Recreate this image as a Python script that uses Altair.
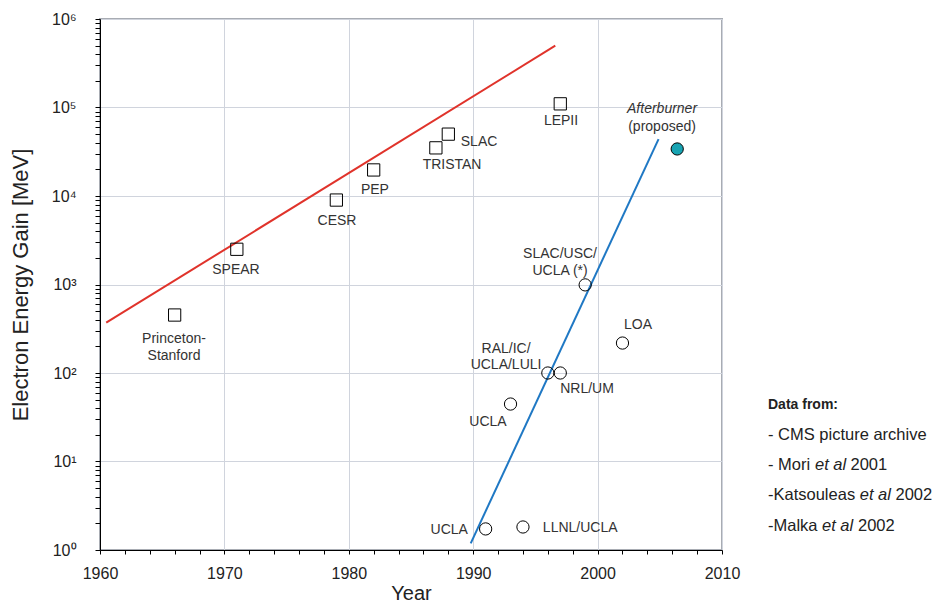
import altair as alt
import pandas as pd

FONT = "Liberation Sans"

# ---- data ----
sq_names = ["Princeton-Stanford", "SPEAR", "CESR", "PEP", "TRISTAN", "SLAC", "LEPII"]
sq_years = [1966, 1971, 1979, 1982, 1987, 1988, 1997]
sq_gain = [452, 2500, 9000, 19700, 35000, 50000, 110000]

circ_names = ["UCLA", "LLNL/UCLA", "UCLA", "RAL/IC/UCLA/LULI", "NRL/UM", "SLAC/USC/UCLA (*)", "LOA"]
circ_years = [1991, 1994, 1993, 1996, 1997, 1999, 2002]
circ_gain = [1.73, 1.82, 44.6, 100, 100, 990, 218]

ab_years = [2006.4]
ab_gain = [34000]

red_years = [1960.5, 1996.6]
red_gain = [370, 500000]
blue_years = [1989.8, 2004.9]
blue_gain = [1.19, 44000]

# label anchors (text centre) in data units
lab_text = ["Princeton-\nStanford", "SPEAR", "CESR", "PEP", "TRISTAN", "SLAC", "LEPII",
            "SLAC/USC/\nUCLA (*)", "LOA", "RAL/IC/\nUCLA/LULI", "NRL/UM", "UCLA",
            "UCLA", "LLNL/UCLA", "(proposed)"]
lab_year = [1965.95, 1970.93, 1979.05, 1982.1, 1988.3, 1989.0, 1997.06,
            1996.98, 2003.25, 1992.64, 1999.15, 1991.19, 1989.58, 1995.6, 2005.18]
lab_gain = [242, 1459, 5220, 11700, 22400, 40700, 70400,
            2183, 349, 187, 66, 27.9, 1.68, 1.77, 60200]
lab_align = ["center", "center", "center", "center", "center", "left", "center",
             "center", "center", "center", "center", "center", "right", "left", "center"]
ital_text = ["Afterburner"]
ital_year = [2005.18]
ital_gain = [96200]

x_ticks = list(range(1960, 2011, 2))
y_ticks = [k * 10 ** n for n in range(0, 6) for k in range(1, 10)] + [10 ** 6]

W, H = 622, 531

sq = pd.DataFrame({"name": sq_names, "year": sq_years, "gain": sq_gain})
ci = pd.DataFrame({"name": circ_names, "year": circ_years, "gain": circ_gain})
ab = pd.DataFrame({"year": ab_years, "gain": ab_gain})
lines = pd.DataFrame({
    "year": red_years + blue_years,
    "gain": red_gain + blue_gain,
    "series": ["red"] * 2 + ["blue"] * 2,
})
labs = pd.DataFrame({"text": lab_text, "year": lab_year, "gain": lab_gain, "align": lab_align})
itl = pd.DataFrame({"text": ital_text, "year": ital_year, "gain": ital_gain})

xscale = alt.Scale(domain=[1960, 2010], nice=False, zero=False)
yscale = alt.Scale(type="log", domain=[1, 1e6], nice=False)

x_axis = alt.Axis(
    values=x_ticks, title="Year", titleFontSize=20, titleFont=FONT, titleFontWeight="normal",
    titleColor="#222", titlePadding=2,
    labelFont=FONT, labelFontSize=16, labelColor="#222", labelPadding=11,
    labelExpr="datum.value % 10 == 0 ? '' + datum.value : ''",
    labelOverlap=False, labelFlush=False,
    tickSize=4, tickColor="black", domainColor="black", domainWidth=1,
    grid=True, gridColor="#d0d4dd", gridWidth=1,
    gridOpacity={"condition": {"test": "datum.value % 10 == 0", "value": 1}, "value": 0},
)
major_test = "abs(log(datum.value)/LN10 - round(log(datum.value)/LN10)) < 1e-6"
y_axis = alt.Axis(
    values=y_ticks, title="Electron Energy Gain [MeV]", titleFontSize=22, titleFont=FONT,
    titleFontWeight="normal", titleColor="#222", titlePadding=19,
    labelFont=FONT, labelFontSize=16, labelColor="#222", labelPadding=19,
    labelExpr=major_test + " ? '10' + ['⁰','¹','²','³','⁴','⁵','⁶'][round(log(datum.value)/LN10)] : ''",
    labelOverlap=False, labelFlush=False,
    tickSize=5, tickColor="black", domainColor="black", domainWidth=1,
    grid=True, gridColor="#d0d4dd", gridWidth=1,
    gridOpacity={"condition": {"test": major_test, "value": 1}, "value": 0},
)

X = alt.X("year:Q", scale=xscale, axis=x_axis)
Y = alt.Y("gain:Q", scale=yscale, axis=y_axis)

line_layer = alt.Chart(lines).mark_line(strokeWidth=2, clip=False).encode(
    x=X, y=Y,
    color=alt.Color("series:N", scale=alt.Scale(domain=["red", "blue"], range=["#e0332b", "#1f78c4"]), legend=None),
    detail="series:N",
)
sq_layer = alt.Chart(sq).mark_point(shape="square", filled=False, size=150, stroke="black", strokeWidth=1, opacity=1).encode(x=X, y=Y)
ci_layer = alt.Chart(ci).mark_point(shape="circle", filled=False, size=150, stroke="black", strokeWidth=1, opacity=1).encode(x=X, y=Y)
ab_layer = alt.Chart(ab).mark_point(shape="circle", filled=True, size=150, fill="#17a3b2", stroke="black", strokeWidth=1, opacity=1).encode(x=X, y=Y)

text_layers = []
for al in ["center", "left", "right"]:
    text_layers.append(
        alt.Chart(labs).transform_filter(alt.datum.align == al).mark_text(
            align=al, baseline="middle", font=FONT, fontSize=14, color="#333", lineBreak="\n", lineHeight=16.5
        ).encode(x=X, y=Y, text="text:N")
    )
ital_layer = alt.Chart(itl).mark_text(
    align="center", baseline="middle", font=FONT, fontSize=14, fontStyle="italic", color="#333"
).encode(x=X, y=Y, text="text:N")

# side note fragments (page pixels converted to chart pixels)
OX, OY = 100, 19
NS = 16.5
frags = [
    ("Data from:", 768, 405, "bold", "normal", 14),
    ("- CMS picture archive", 768, 435, "normal", "normal", NS),
    ("- Mori ", 768, 465, "normal", "normal", NS),
    ("et al", 815, 465, "normal", "italic", NS),
    ("2001", 850.5, 465, "normal", "normal", NS),
    ("-Katsouleas ", 768, 495, "normal", "normal", NS),
    ("et al", 859.7, 495, "normal", "italic", NS),
    ("2002", 895.5, 495, "normal", "normal", NS),
    ("-Malka ", 768, 526, "normal", "normal", NS),
    ("et al", 822, 526, "normal", "italic", NS),
    ("2002", 858, 526, "normal", "normal", NS),
]
note_layers = []
for t, px, py, fw, fs, sz in frags:
    note_layers.append(
        alt.Chart(pd.DataFrame({"t": [t]})).mark_text(
            align="left", baseline="middle", font=FONT, fontSize=sz, fontWeight=fw, fontStyle=fs, color="#222"
        ).encode(x=alt.value(px - OX), y=alt.value(py - OY), text="t:N")
    )

chart = alt.layer(
    line_layer, sq_layer, ci_layer, ab_layer, *text_layers, ital_layer, *note_layers
).properties(
    width=W, height=H,
    autosize=alt.AutoSizeParams(type="none"),
    padding={"left": 92, "top": 11, "right": 211, "bottom": 52},
    background="white",
).configure_view(stroke="#a8acb3", strokeWidth=2)

chart.save("out.html", embed_options={"renderer": "svg", "actions": False})
